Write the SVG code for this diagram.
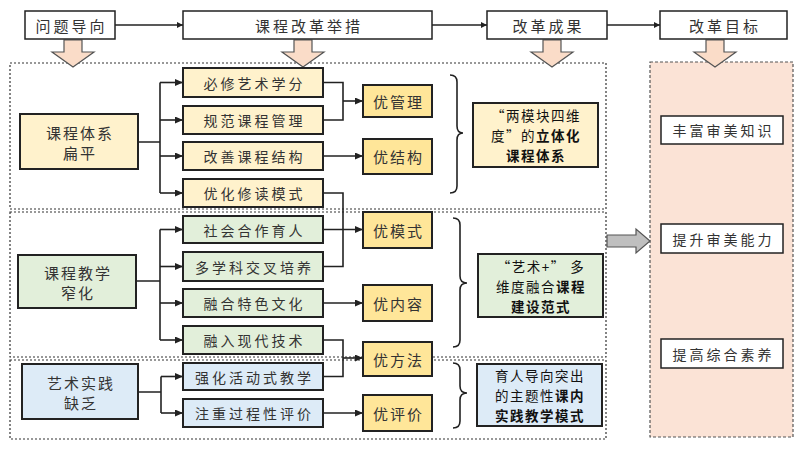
<svg xmlns="http://www.w3.org/2000/svg" width="800" height="450" viewBox="0 0 800 450">
<defs>
<style>
.hdr{fill:#fff;stroke:#222;stroke-width:1.5}
.bx{stroke:#222;stroke-width:2}
.y{fill:#FFF2CC}.y2{fill:#FFE699}.g{fill:#E2EFDA}.b{fill:#DDEBF7}.w{fill:#fff}
.dash{fill:none;stroke:#333;stroke-width:1.2;stroke-dasharray:2 2}
.c{fill:none;stroke:#222;stroke-width:1.6}
.t{font-family:"Noto Sans CJK SC","Noto Sans",sans-serif;fill:#333;text-anchor:middle;dominant-baseline:central}
.s14{font-size:14px;letter-spacing:3px}
.s15{font-size:15px;letter-spacing:2px}
.h{font-size:15px;letter-spacing:3px}
.r{font-size:13.5px;fill:#111;letter-spacing:1.5px}
.bd{font-weight:bold}
.darr{fill:#FADCC8;stroke:#555;stroke-width:1.2}
</style>
<marker id="ah" markerUnits="userSpaceOnUse" markerWidth="8" markerHeight="7" refX="8" refY="3.5" orient="auto"><path d="M0,0 L8,3.5 L0,7 z" fill="#222"/></marker>
<marker id="ahs" markerUnits="userSpaceOnUse" markerWidth="6" markerHeight="6" refX="6" refY="3" orient="auto"><path d="M0,0 L6,3 L0,6 z" fill="#222"/></marker>
<path id="down" d="M-9,40 L9,40 L9,52 L21,52 L0,67 L-21,52 L-9,52 Z"/>
</defs>

<!-- containers -->
<rect class="dash" x="10" y="63" width="596" height="146"/>
<rect class="dash" x="10" y="212" width="596" height="145"/>
<rect class="dash" x="10" y="360" width="596" height="79"/>
<rect x="650" y="62" width="143" height="375" fill="#FBE3D6" stroke="#555" stroke-width="1.2" stroke-dasharray="3 2"/>

<!-- big arrows -->
<use href="#down" class="darr" x="73" y="0"/>
<use href="#down" class="darr" x="303" y="0"/>
<use href="#down" class="darr" x="552" y="0"/>
<use href="#down" class="darr" x="715" y="0"/>
<path d="M607,235 L636,235 L636,229 L650,241 L636,253 L636,247 L607,247 Z" fill="#BFBFBF" stroke="#555" stroke-width="1.2"/>

<!-- connectors -->
<g id="connectors">
<path class="c" d="M115,25 H183" marker-end="url(#ahs)"/>
<path class="c" d="M432,25 H487" marker-end="url(#ahs)"/>
<path class="c" d="M607,25 H660" marker-end="url(#ahs)"/>
<!-- section 1 -->
<path class="c" d="M138,142 H160 M160,82.5 V193"/>
<path class="c" d="M160,82.5 H183" marker-end="url(#ah)"/>
<path class="c" d="M160,120 H183" marker-end="url(#ah)"/>
<path class="c" d="M160,156 H183" marker-end="url(#ah)"/>
<path class="c" d="M160,193 H183" marker-end="url(#ah)"/>
<path class="c" d="M323,82.5 H343 V120 H323"/>
<path class="c" d="M343,101 H363" marker-end="url(#ah)"/>
<path class="c" d="M323,156 H363" marker-end="url(#ah)"/>
<path class="c" d="M323,193 H343 V266.5 H323"/>
<!-- section 2 -->
<path class="c" d="M136,281 H160 M160,229.5 V340"/>
<path class="c" d="M160,229.5 H183" marker-end="url(#ah)"/>
<path class="c" d="M160,266.5 H183" marker-end="url(#ah)"/>
<path class="c" d="M160,303 H183" marker-end="url(#ah)"/>
<path class="c" d="M160,340 H183" marker-end="url(#ah)"/>
<path class="c" d="M323,229.5 H363" marker-end="url(#ah)"/>
<path class="c" d="M323,303 H363" marker-end="url(#ah)"/>
<path class="c" d="M323,340 H343 V376.5 H323"/>
<path class="c" d="M343,358 H363" marker-end="url(#ah)"/>
<!-- section 3 -->
<path class="c" d="M138,392 H161 M161,376.5 V413"/>
<path class="c" d="M161,376.5 H183" marker-end="url(#ah)"/>
<path class="c" d="M161,413 H183" marker-end="url(#ah)"/>
<path class="c" d="M323,413 H363" marker-end="url(#ah)"/>
<!-- braces -->
<path class="c" d="M450,75 Q457,75 457,82 L457,126 Q457,133 463,133 Q457,133 457,140 L457,186 Q457,193 450,193"/>
<path class="c" d="M453,218 Q460,218 460,225 L460,276 Q460,283 467,283 Q460,283 460,290 L460,340 Q460,347 453,347"/>
<path class="c" d="M453,363 Q460,363 460,370 L460,386 Q460,393 467,393 Q460,393 460,400 L460,421 Q460,428 453,428"/>
</g>

<!-- headers -->
<g id="h1"><rect class="hdr" x="25" y="11" width="90" height="28"/><text class="t h" x="71.5" y="25">问题导向</text></g>
<g id="h2"><rect class="hdr" x="183" y="11" width="249" height="28"/><text class="t h" x="309" y="25" font-size="16">课程改革举措</text></g>
<g id="h3"><rect class="hdr" x="487" y="11" width="120" height="28"/><text class="t h" x="548.5" y="25">改革成果</text></g>
<g id="h4"><rect class="hdr" x="660" y="11" width="127" height="28"/><text class="t h" x="725" y="25">改革目标</text></g>

<!-- section 1 nodes -->
<g id="n-tixi"><rect class="bx y" x="20" y="114" width="118" height="55"/><text class="t s15" x="80" y="132">课程体系</text><text class="t s15" x="80" y="152">扁平</text></g>
<g id="n-bixiu"><rect class="bx y" x="183" y="68" width="140" height="29"/><text class="t s14" x="254.5" y="82.5">必修艺术学分</text></g>
<g id="n-guifan"><rect class="bx y" x="183" y="106" width="140" height="28"/><text class="t s14" x="254.5" y="120">规范课程管理</text></g>
<g id="n-gaishan"><rect class="bx y" x="183" y="142" width="140" height="28"/><text class="t s14" x="254.5" y="156">改善课程结构</text></g>
<g id="n-youhua"><rect class="bx y" x="183" y="179" width="140" height="28"/><text class="t s14" x="254.5" y="193">优化修读模式</text></g>
<g id="n-guanli"><rect class="bx y2" x="363" y="85" width="69" height="32"/><text class="t s15" x="398.5" y="101">优管理</text></g>
<g id="n-jiegou"><rect class="bx y2" x="363" y="139" width="69" height="35"/><text class="t s15" x="398.5" y="156.5">优结构</text></g>
<g id="n-res1"><rect class="bx y" x="473" y="103" width="125" height="64"/>
<text class="t r"><tspan x="536" y="115">“两模块四维</tspan><tspan x="536" y="135">度”的<tspan class="bd">立体化</tspan></tspan><tspan class="bd" x="536" y="155">课程体系</tspan></text></g>

<!-- section 2 nodes -->
<g id="n-jiaoxue"><rect class="bx g" x="18" y="255" width="118" height="53"/><text class="t s15" x="78" y="272">课程教学</text><text class="t s15" x="78" y="292">窄化</text></g>
<g id="n-shehui"><rect class="bx g" x="183" y="216" width="140" height="27"/><text class="t s14" x="254.5" y="229.5">社会合作育人</text></g>
<g id="n-duoxueke"><rect class="bx g" x="183" y="252" width="140" height="29"/><text class="t s14" x="254.5" y="266.5">多学科交叉培养</text></g>
<g id="n-ronghe"><rect class="bx g" x="183" y="289" width="140" height="28"/><text class="t s14" x="254.5" y="303">融合特色文化</text></g>
<g id="n-rongru"><rect class="bx g" x="183" y="326" width="140" height="28"/><text class="t s14" x="254.5" y="340">融入现代技术</text></g>
<g id="n-moshi"><rect class="bx y2" x="363" y="212" width="69" height="36"/><text class="t s15" x="398.5" y="230">优模式</text></g>
<g id="n-neirong"><rect class="bx y2" x="363" y="285" width="69" height="36"/><text class="t s15" x="398.5" y="303">优内容</text></g>
<g id="n-fangfa"><rect class="bx y2" x="363" y="342" width="69" height="34"/><text class="t s15" x="398.5" y="359">优方法</text></g>
<g id="n-res2"><rect class="bx g" x="478" y="254" width="125" height="63"/>
<text class="t r"><tspan x="541" y="265.5">“艺术+” 多</tspan><tspan x="541" y="285.5">维度融合<tspan class="bd">课程</tspan></tspan><tspan class="bd" x="541" y="305.5">建设范式</tspan></text></g>

<!-- section 3 nodes -->
<g id="n-shijian"><rect class="bx b" x="22" y="364" width="116" height="55"/><text class="t s15" x="81" y="382">艺术实践</text><text class="t s15" x="81" y="402">缺乏</text></g>
<g id="n-qianghua"><rect class="bx b" x="183" y="363" width="140" height="27"/><text class="t s14" x="254.5" y="376.5">强化活动式教学</text></g>
<g id="n-zhuzhong"><rect class="bx b" x="183" y="399" width="140" height="28"/><text class="t s14" x="254.5" y="413">注重过程性评价</text></g>
<g id="n-pingjia"><rect class="bx y2" x="363" y="395" width="69" height="36"/><text class="t s15" x="398.5" y="413">优评价</text></g>
<g id="n-res3"><rect class="bx b" x="477" y="364" width="125" height="62"/>
<text class="t r"><tspan x="540" y="375">育人导向突出</tspan><tspan x="540" y="395">的主题性<tspan class="bd">课内</tspan></tspan><tspan class="bd" x="540" y="415">实践教学模式</tspan></text></g>

<!-- goals -->
<g id="g1"><rect class="hdr" x="661" y="116" width="122" height="28"/><text class="t s14" x="723.5" y="130">丰富审美知识</text></g>
<g id="g2"><rect class="hdr" x="661" y="224" width="122" height="29"/><text class="t s14" x="723.5" y="238.5">提升审美能力</text></g>
<g id="g3"><rect class="hdr" x="661" y="339" width="122" height="29"/><text class="t s14" x="723.5" y="353.5">提高综合素养</text></g>
</svg>
